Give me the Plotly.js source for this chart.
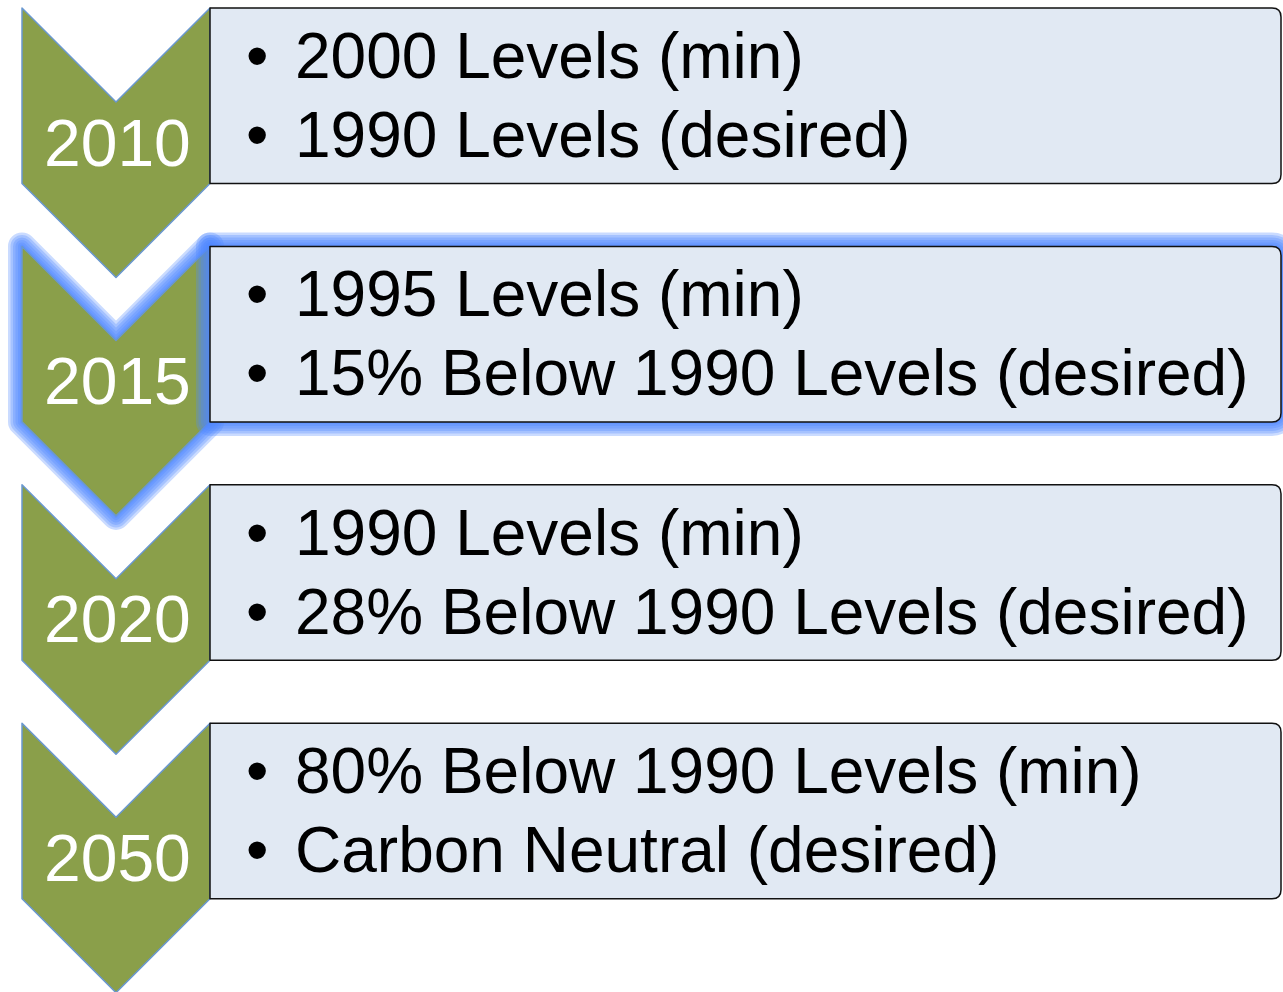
<!DOCTYPE html>
<html>
<head>
<meta charset="utf-8">
<script src="https://cdn.plot.ly/plotly-3.0.1.min.js"></script>
<style>
html,body{margin:0;padding:0;background:#fff;overflow:hidden}
#chart{width:1283px;height:992px}
.shapelayer path{stroke-linejoin:round;}
</style>
</head>
<body>
<div id="chart"></div>
<script>
// ---- data ----
const years = ["2010", "2015", "2020", "2050"];
const minTargets = ["2000 Levels (min)", "1995 Levels (min)", "1990 Levels (min)", "80% Below 1990 Levels (min)"];
const desiredTargets = ["1990 Levels (desired)", "15% Below 1990 Levels (desired)", "28% Below 1990 Levels (desired)", "Carbon Neutral (desired)"];
const highlighted = [false, true, false, false];

// ---- layout constants (pixels) ----
const W = 1283, H = 992;
const rowTop = 8, rowStep = 238.4;
const cx0 = 22, cx1 = 210, cxc = 116;
const notch = 94, side = 175.5, tip = 269.5;
const bx1 = 1281, rad = 9;
const green = "#8A9F4A", boxFill = "#E1E9F3", chevLine = "#6A98D0";
const glowColor = "rgba(80,135,255,0.3)";
const fontFam = "Liberation Sans, Arial, Helvetica, sans-serif";

function chevPath(y0) {
  return `M ${cx0} ${y0} L ${cxc} ${y0 + notch} L ${cx1} ${y0} L ${cx1} ${y0 + side} L ${cxc} ${y0 + tip} L ${cx0} ${y0 + side} Z`;
}
function boxPath(y0) {
  const y1 = y0 + side;
  return `M ${cx1} ${y0} L ${bx1 - rad} ${y0} Q ${bx1} ${y0} ${bx1} ${y0 + rad} L ${bx1} ${y1 - rad} Q ${bx1} ${y1} ${bx1 - rad} ${y1} L ${cx1} ${y1} Z`;
}

const shapes = [];
const annotations = [];
const glowWidths = [28, 23, 18, 13, 8, 4];

years.forEach((yr, i) => {
  const y0 = rowTop + rowStep * i;
  if (highlighted[i]) {
    glowWidths.forEach(w => shapes.push({type: "path", xref: "x", yref: "y", path: chevPath(y0), fillcolor: "rgba(0,0,0,0)", line: {color: glowColor, width: w}}));
  }
  shapes.push({type: "path", xref: "x", yref: "y", path: chevPath(y0), fillcolor: green, line: {color: chevLine, width: 1.5}});
  if (highlighted[i]) {
    glowWidths.forEach(w => shapes.push({type: "path", xref: "x", yref: "y", path: boxPath(y0), fillcolor: "rgba(0,0,0,0)", line: {color: glowColor, width: w}}));
  }
  shapes.push({type: "path", xref: "x", yref: "y", path: boxPath(y0), fillcolor: boxFill, line: {color: "#111111", width: 1.5}});

  annotations.push({x: cxc + 1, y: y0 + 134.5, xref: "x", yref: "y", text: yr, showarrow: false, xanchor: "center", yanchor: "middle", font: {family: fontFam, size: 66, color: "#FFFFFF"}});
  [minTargets[i], desiredTargets[i]].forEach((t, k) => {
    const ty = y0 + 48 + 79 * k;
    annotations.push({x: 257, y: ty, xref: "x", yref: "y", text: "•", showarrow: false, xanchor: "center", yanchor: "middle", font: {family: fontFam, size: 64, color: "#000000"}});
    annotations.push({x: 293, y: ty, xref: "x", yref: "y", text: t, showarrow: false, xanchor: "left", yanchor: "middle", font: {family: fontFam, size: 64, color: "#000000"}});
  });
});

const layout = {
  width: W, height: H,
  margin: {l: 0, r: 0, t: 0, b: 0, pad: 0},
  paper_bgcolor: "#FFFFFF", plot_bgcolor: "#FFFFFF",
  xaxis: {range: [0, W], visible: false, fixedrange: true},
  yaxis: {range: [H, 0], visible: false, fixedrange: true},
  showlegend: false,
  shapes: shapes,
  annotations: annotations
};
Plotly.newPlot("chart", [{x: [], y: [], type: "scatter", mode: "markers", hoverinfo: "skip"}], layout, {displayModeBar: false, staticPlot: true});
</script>
</body>
</html>
